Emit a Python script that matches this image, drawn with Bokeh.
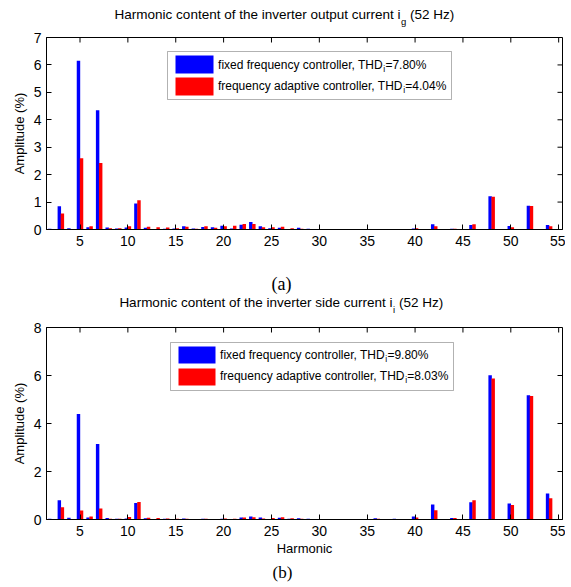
from bokeh.plotting import figure
from bokeh.models import Label, BoxAnnotation, FixedTicker, Range1d, ColumnDataSource
from bokeh.layouts import column
from bokeh.transform import dodge
from bokeh.embed import file_html
from bokeh.resources import INLINE

# ---------------- data ----------------
harmonics = list(range(2, 56))

fixed_a = [0.03, 0.85, 0.05, 6.15, 0.08, 4.35, 0.07, 0.04, 0.07, 0.95,
           0.06, 0.02, 0.03, 0.04, 0.12, 0.04, 0.09, 0.08, 0.14, 0.04,
           0.17, 0.27, 0.12, 0.05, 0.06, 0.02, 0.06, 0.03, 0.02, 0.02,
           0.01, 0.01, 0.01, 0.02, 0.02, 0.01, 0.02, 0.01, 0.04, 0.01,
           0.19, 0.01, 0.03, 0.01, 0.16, 0.01, 1.21, 0.01, 0.13, 0.01,
           0.87, 0.01, 0.16, 0.01]
adaptive_a = [0.02, 0.58, 0.02, 2.60, 0.12, 2.42, 0.05, 0.05, 0.12, 1.07,
              0.10, 0.08, 0.07, 0.05, 0.10, 0.03, 0.12, 0.06, 0.12, 0.14,
              0.20, 0.20, 0.08, 0.08, 0.10, 0.05, 0.03, 0.02, 0.02, 0.02,
              0.01, 0.01, 0.02, 0.01, 0.02, 0.01, 0.02, 0.01, 0.05, 0.01,
              0.12, 0.01, 0.03, 0.01, 0.19, 0.01, 1.19, 0.01, 0.08, 0.01,
              0.86, 0.01, 0.12, 0.01]
fixed_b = [0.03, 0.80, 0.07, 4.40, 0.08, 3.15, 0.06, 0.03, 0.04, 0.69,
           0.05, 0.02, 0.03, 0.02, 0.04, 0.02, 0.03, 0.02, 0.03, 0.02,
           0.08, 0.13, 0.08, 0.02, 0.07, 0.03, 0.05, 0.03, 0.02, 0.02,
           0.01, 0.01, 0.01, 0.01, 0.05, 0.01, 0.03, 0.02, 0.12, 0.01,
           0.62, 0.01, 0.06, 0.01, 0.72, 0.01, 6.01, 0.01, 0.67, 0.01,
           5.18, 0.01, 1.08, 0.01]
adaptive_b = [0.02, 0.51, 0.02, 0.37, 0.12, 0.46, 0.03, 0.03, 0.10, 0.73,
              0.07, 0.06, 0.04, 0.03, 0.03, 0.02, 0.03, 0.02, 0.04, 0.03,
              0.08, 0.09, 0.04, 0.06, 0.09, 0.05, 0.03, 0.02, 0.02, 0.02,
              0.02, 0.01, 0.02, 0.01, 0.03, 0.01, 0.02, 0.01, 0.08, 0.01,
              0.39, 0.01, 0.06, 0.01, 0.80, 0.01, 5.87, 0.01, 0.60, 0.01,
              5.15, 0.01, 0.89, 0.01]

x_ticks = [5, 10, 15, 20, 25, 30, 35, 40, 45, 50, 55]
y_ticks_a = [0, 1, 2, 3, 4, 5, 6, 7]
y_ticks_b = [0, 2, 4, 6, 8]

title_a = ("Harmonic content of the inverter output current i", "g", "(52 Hz)")
title_b = ("Harmonic content of the inverter side current i", "i", "(52 Hz)")
legend_a = [("fixed frequency controller, THD", "i", "=7.80%"),
            ("frequency adaptive controller, THD", "i", "=4.04%")]
legend_b = [("fixed frequency controller, THD", "i", "=9.80%"),
            ("frequency adaptive controller, THD", "i", "=8.03%")]
y_label = "Amplitude (%)"
x_label = "Harmonic"
panel_a = "(a)"
panel_b = "(b)"

BLUE = "#0000FF"
RED = "#FF0000"
FONT = "Liberation Sans"
SERIF = "Liberation Serif"

X0, X1 = 1.5, 55.4
W = 565
BL, BR = 46, 3
FRAME_W = W - BL - BR
FRAME_H = 192
TICK_PX = 5


class Geo:
    """maps picture pixels to data units of a main figure"""
    def __init__(self, frame_top, ymax):
        self.left = BL
        self.bottom = frame_top + FRAME_H
        self.ymax = ymax

    def x(self, xi):
        return X0 + (xi - self.left) * (X1 - X0) / FRAME_W

    def y(self, yi):
        return (self.bottom - yi) * self.ymax / FRAME_H


class StripGeo:
    """text strips: their frame is aligned with the main frames"""
    def __init__(self, top):
        self.top = top

    def x(self, xi):
        return xi

    def y(self, yi):
        return yi - self.top


def label(p, g, xi, yi, text, size, font=FONT, align="left"):
    p.add_layout(Label(x=g.x(xi), y=g.y(yi), text=text, text_font=font,
                       text_font_size=size, text_baseline="middle",
                       text_align=align, text_color="black", level="overlay"))


def sub_text(p, g, xs, yc, parts, size, sub_size, gap, dy):
    """main text right-aligned up to xs, subscript at xs, rest after it"""
    main, sub, rest = parts
    label(p, g, xs, yc, main, size, align="right")
    label(p, g, xs + 0.5, yc + dy, sub, sub_size)
    label(p, g, xs + gap, yc, rest, size)


def box(p, g, l, r, t, b, fill, line):
    p.add_layout(BoxAnnotation(left=g.x(l), right=g.x(r), top=g.y(t), bottom=g.y(b),
                               fill_color=fill, fill_alpha=1.0,
                               line_color=line, line_width=1, level="annotation"))


def strip(height):
    s = figure(width=W, height=height, output_backend="svg", toolbar_location=None,
               title=None, x_axis_type=None, y_axis_type=None,
               x_range=Range1d(BL, W - BR), y_range=Range1d(height, 0),
               min_border=0, min_border_left=BL, min_border_right=BR,
               outline_line_color=None,
               background_fill_color="white", border_fill_color="white")
    s.grid.visible = False
    return s


def make_fig(height, top_border, ymax, yticks, fixed, adaptive, xlab):
    src = ColumnDataSource(dict(h=harmonics, fixed=fixed, adaptive=adaptive))
    p = figure(width=W, height=height, output_backend="svg", toolbar_location=None,
               title=None, x_range=Range1d(X0, X1), y_range=Range1d(0, ymax),
               min_border_left=BL, min_border_right=BR, min_border_top=top_border,
               min_border_bottom=height - top_border - FRAME_H,
               background_fill_color="white", border_fill_color="white",
               outline_line_color="black")
    p.grid.visible = False
    p.vbar(x=dodge("h", -0.16, range=p.x_range), top="fixed", width=0.36, source=src,
           fill_color=BLUE, line_color=None)
    p.vbar(x=dodge("h", 0.16, range=p.x_range), top="adaptive", width=0.36, source=src,
           fill_color=RED, line_color=None)

    # mirrored (box) ticks on the top and right edges, at the axis tick values
    dy = TICK_PX * ymax / FRAME_H
    dx = TICK_PX * (X1 - X0) / FRAME_W
    p.segment(x0=x_ticks, x1=x_ticks, y0=[ymax] * len(x_ticks),
              y1=[ymax - dy] * len(x_ticks), line_color="black", line_width=1)
    p.segment(x0=[X1] * len(yticks), x1=[X1 - dx] * len(yticks), y0=yticks, y1=yticks,
              line_color="black", line_width=1)

    for ax in (p.xaxis[0], p.yaxis[0]):
        ax.major_tick_in = TICK_PX
        ax.major_tick_out = 0
        ax.minor_tick_line_color = None
        ax.axis_line_color = "black"
        ax.major_tick_line_color = "black"
        ax.major_label_text_font = FONT
        ax.major_label_text_font_size = "14px"
        ax.major_label_text_color = "black"
        ax.axis_label_text_font = FONT
        ax.axis_label_text_font_size = "13px"
        ax.axis_label_text_font_style = "normal"
        ax.axis_label_text_color = "black"
    p.xaxis[0].ticker = FixedTicker(ticks=x_ticks)
    p.yaxis[0].ticker = FixedTicker(ticks=yticks)
    p.xaxis[0].major_label_standoff = 6
    p.yaxis[0].major_label_standoff = 5
    p.yaxis[0].axis_label = y_label
    p.yaxis[0].axis_label_standoff = 4
    if xlab:
        p.xaxis[0].axis_label = xlab
        p.xaxis[0].axis_label_standoff = 2
    return p


# ---------------- vertical plan (picture pixels) ----------------
S1_TOP, S1_H = 0, 30
PA_TOP, PA_H, PA_TB = 30, 221, 7
S2_TOP, S2_H = 251, 69
PB_TOP, PB_H, PB_TB = 320, 239, 7
S3_TOP, S3_H = 559, 24

# title (a)
s1 = strip(S1_H)
g1 = StripGeo(S1_TOP)
sub_text(s1, g1, 400, 14, title_a, "13.5px", "9.5px", 9.5, 7)

# figure (a)
pa = make_fig(PA_H, PA_TB, 7, y_ticks_a, fixed_a, adaptive_a, None)
ga = Geo(PA_TOP + PA_TB, 7)
box(pa, ga, 167, 451, 51, 99, "white", "black")
box(pa, ga, 175, 213, 55, 73, BLUE, None)
box(pa, ga, 175, 213, 77, 95, RED, None)
sub_text(pa, ga, 382.3, 64, legend_a[0], "12px", "8.5px", 2.6, 4)
sub_text(pa, ga, 402.2, 85.5, legend_a[1], "12px", "8.5px", 2.6, 4)

# (a) + title (b)
s2 = strip(S2_H)
g2 = StripGeo(S2_TOP)
label(s2, g2, 281, 283, panel_a, "18px", font=SERIF, align="center")
sub_text(s2, g2, 392, 302, title_b, "13.5px", "9.5px", 6.5, 7)

# figure (b)
pb = make_fig(PB_H, PB_TB, 8, y_ticks_b, fixed_b, adaptive_b, x_label)
gb = Geo(PB_TOP + PB_TB, 8)
box(pb, gb, 170, 453, 342, 390, "white", "black")
box(pb, gb, 178, 215, 346, 363, BLUE, None)
box(pb, gb, 178, 215, 368, 385, RED, None)
sub_text(pb, gb, 384.3, 354, legend_b[0], "12px", "8.5px", 2.6, 4)
sub_text(pb, gb, 404.2, 375.5, legend_b[1], "12px", "8.5px", 2.6, 4)

# (b)
s3 = strip(S3_H)
g3 = StripGeo(S3_TOP)
label(s3, g3, 282, 572, panel_b, "17px", font=SERIF, align="center")

layout = column(s1, pa, s2, pb, s3, spacing=0)
open("out.html", "w").write(file_html(layout, INLINE))
